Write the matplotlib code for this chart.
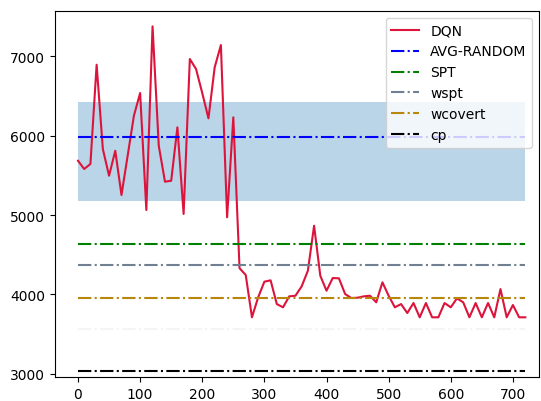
import numpy as np
import matplotlib
matplotlib.use("Agg")
import matplotlib.pyplot as plt

# episodes (x) and DQN cost
episodes = np.arange(0, 730, 10)
dqn = [5684, 5580, 5643, 6894, 5832, 5495, 5810, 5252, 5750, 6251,
       6537, 5063, 7378, 5873, 5420, 5432, 6105, 5013, 6966, 6840,
       6537, 6218, 6861, 7142, 4971, 6231, 4330, 4244, 3711, 3963,
       4160, 4177, 3878, 3837, 3975, 3983, 4101, 4298, 4865, 4235,
       4046, 4206, 4202, 4004, 3954, 3958, 3975, 3983, 3900, 4152,
       3983, 3837, 3878, 3765, 3891, 3711, 3891, 3711, 3711, 3891,
       3837, 3950, 3900, 3711, 3891, 3711, 3891, 3711, 4067, 3711,
       3866, 3711, 3711]

# baselines
avg_random = 5979
random_low = 5172
random_high = 6425
spt = 4638
wspt = 4370
wcovert = 3958
other = 3563
cp = 3030

fig = plt.figure(figsize=(5.41, 4.02), dpi=100)
ax = fig.add_axes([55 / 541, 1 - 378.3 / 402, 484 / 541, 366.3 / 402])

n = len(episodes)
ax.fill_between(episodes, [random_low] * n, [random_high] * n, alpha=0.3)
ax.plot(episodes, dqn, color='crimson', label='DQN')
ax.plot(episodes, [avg_random] * n, '-.', color='blue', label='AVG-RANDOM')
ax.plot(episodes, [spt] * n, '-.', color='green', label='SPT')
ax.plot(episodes, [wspt] * n, '-.', color='slategray', label='wspt')
ax.plot(episodes, [wcovert] * n, '-.', color='darkgoldenrod', label='wcovert')
ax.plot(episodes, [other] * n, '-.', color='#f4f4f4')
ax.plot(episodes, [cp] * n, '-.', color='black', label='cp')

ax.set_xlim(-37, 742)
ax.set_ylim(2955, 7571)
ax.set_xticks(range(0, 800, 100))
ax.set_yticks(range(3000, 8000, 1000))
ax.legend(loc='upper right')

fig.savefig('out.png', dpi=100)
